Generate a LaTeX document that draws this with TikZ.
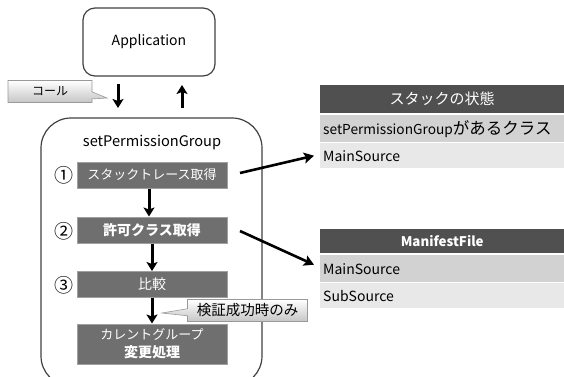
\documentclass[tikz,border=0pt]{standalone}
\usepackage{fontspec}
\setmainfont{Noto Sans CJK JP}
\usetikzlibrary{arrows.meta,shapes.callouts,positioning}
\definecolor{stepfill}{HTML}{6F6F6F}
\definecolor{stepline}{HTML}{A0A0A0}
\definecolor{headfill}{HTML}{505050}
\definecolor{rowdark}{HTML}{D2D2D2}
\definecolor{rowlight}{HTML}{E8E8E8}
\newcommand{\fs}[1]{\fontsize{#1}{#1}\selectfont}
\tikzset{
  stepbox/.style={draw=stepline, line width=1pt, fill=stepfill, text=white,
    minimum width=150pt, minimum height=26pt, inner sep=1pt, align=center,
    font=\fs{13}},
  flow/.style={line width=3pt, -{Stealth[length=9pt,width=11pt,inset=2pt]}},
  link/.style={line width=2.6pt, -{Stealth[length=10pt,width=11pt,inset=2pt]}},
  note/.style={rectangle callout, draw=gray!80, line width=0.6pt,
    top color=white, bottom color=gray!45, align=center, inner sep=2pt},
  tabcell/.style={minimum width=244pt, anchor=north west, inner sep=0pt,
    text width=238pt, font=\fs{14}},
  num/.style={font=\fs{19}, inner sep=0pt},
}
\begin{document}
\begin{tikzpicture}[x=1pt,y=-1pt]
\useasboundingbox (0,0) rectangle (564,376);

% caller
\node[draw=black!75, line width=1.2pt, rounded corners=12pt,
  minimum width=132pt, minimum height=68pt, font=\fs{14}] (app) at (149,42) {Application};

% call / return arrows
\coordinate (callS) at (118,84);
\coordinate (callE) at (118,108);
\coordinate (retS) at (182,108);
\coordinate (retE) at (182,85);
\draw[flow] (callS) -- (callE);
\draw[flow] (retS) -- (retE);
\node[note, minimum width=84pt, minimum height=22pt, font=\fs{12},
  callout absolute pointer={(107,98)}] (call) at (50,91.5) {コール};

% method frame
\node[draw=black!75, line width=1.2pt, rounded corners=30pt,
  minimum width=221pt, minimum height=268pt] (frame) at (151.5,252) {};
\node[font=\fs{14.6}] (mname) at (152,143) {setPermissionGroup};

% steps
\node[stepbox] (s1) at (152,175) {スタックトレース取得};
\node[stepbox, font=\fs{14}\bfseries] (s2) at (152,230) {許可クラス取得};
\node[stepbox, font=\fs{14}] (s3) at (152,284.5) {比較};
\node[stepbox, minimum height=40pt, font=\fontsize{13}{18}\selectfont] (s4) at (152,344)
  {カレントグループ\\{\fs{14}\bfseries 変更処理}};
\node[num] (n1) at (64,175) {①};
\node[num] (n2) at (64,231) {②};
\node[num] (n3) at (64,285) {③};

\draw[flow] (s1.south -| 149,0) -- (s2.north -| 149,0);
\draw[flow] (s2) -- (s3);
\draw[flow] (s3) -- (s4);
\node[note, minimum width=120pt, minimum height=22pt, font=\fs{14.5},
  callout absolute pointer={(162,313)}] (cond) at (247.5,310.5) {検証成功時のみ};

% stack table
\node[tabcell, fill=headfill, text=white, minimum height=28pt, align=center,
  font=\fs{15}] (th1) at (320,85) {スタックの状態};
\node[tabcell, fill=rowdark, minimum height=27pt, align=left] (t1a) at (320,115)
  {\fs{13.7}setPermissionGroup\fs{16.5}があるクラス};
\node[tabcell, fill=rowlight, minimum height=25pt, align=left] (t1b) at (320,143) {MainSource};

% manifest table
\node[tabcell, fill=headfill, text=white, minimum height=24pt, align=center,
  font=\fs{13.3}\bfseries] (th2) at (320,229) {ManifestFile};
\node[tabcell, fill=rowdark, minimum height=27pt, align=left] (t2a) at (320,255) {MainSource};
\node[tabcell, fill=rowlight, minimum height=25pt, align=left] (t2b) at (320,283) {SubSource};

% links from steps to tables
\coordinate (l1) at (240,173);
\coordinate (l2) at (240,231);
\draw[link] (l1) -- ([xshift=-6pt]t1b.west);
\draw[link] (l2) -- ([xshift=-6pt,yshift=4pt]t2a.west);
\end{tikzpicture}
\end{document}
